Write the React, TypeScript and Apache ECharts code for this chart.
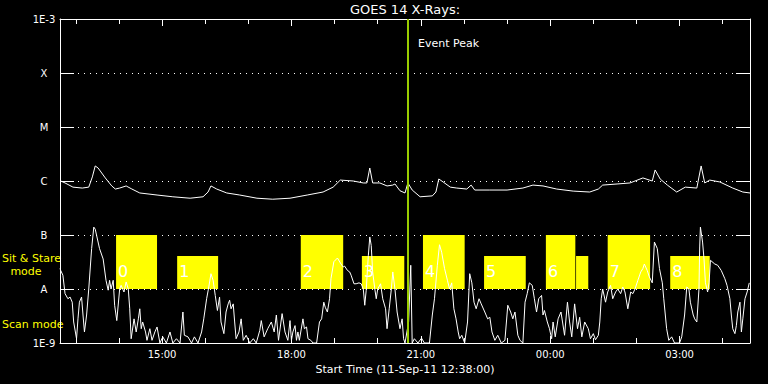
import { useEffect, useRef } from 'react';
import * as echarts from 'echarts';

// ---- texts ----
const TITLE = 'GOES 14 X-Rays:';
const X_NAME = 'Start Time (11-Sep-11 12:38:00)';
const EVENT_LABEL = 'Event Peak';

// ---- x axis: minutes after 11-Sep-11 12:38:00 ----
const X_MIN = 0;
const X_MAX = 960;
const HOUR_TICKS = [22, 82, 142, 202, 262, 322, 382, 442, 502, 562, 622, 682, 742, 802, 862, 922];
const MAJOR_TICKS = [142, 322, 502, 682, 862];
const MAJOR_LABELS = ['15:00', '18:00', '21:00', '00:00', '03:00'];

// ---- y axis (log flux W/m^2) ----
const Y_EXPONENTS = [-3, -4, -5, -6, -7, -8, -9];
const Y_LABELS = ['1E-3', 'X', 'M', 'C', 'B', 'A', '1E-9'];

const EVENT_PEAK = 484;

// ---- observing-mode boxes ----
const BOX_START = [78, 163, 335, 420, 505, 590, 676, 718, 762, 849];
const BOX_END = [135, 220, 394, 479, 563, 648, 717, 735, 821, 904];
const BOX_TOP = [1e-7, 4.1e-8, 1e-7, 4.1e-8, 1e-7, 4.1e-8, 1e-7, 4.1e-8, 1e-7, 4.1e-8];
const BOX_BOTTOM = 1e-8;
const BOX_LABELS = ['0', '1', '2', '3', '4', '5', '6', '', '7', '8'];

// ---- long channel (1-8 A) ----
const LONG_CHANNEL: [number, number][] = [
  [1, 1.0e-6], [7, 9.2e-7], [18, 7.7e-7], [31, 7.4e-7], [40, 7.7e-7], [45, 1.19e-6], [49, 1.9e-6], [53, 1.74e-6],
  [63, 1.14e-6], [72, 8.1e-7], [77, 7.1e-7], [83, 7.4e-7], [92, 8.1e-7], [100, 7.1e-7], [111, 6.0e-7], [135, 5.5e-7],
  [157, 5.1e-7], [181, 4.8e-7], [199, 5.1e-7], [206, 6.25e-7], [210, 8.1e-7], [218, 7.1e-7], [232, 6.0e-7], [250, 5.5e-7],
  [274, 4.8e-7], [296, 4.6e-7], [320, 4.8e-7], [344, 5.5e-7], [366, 6.25e-7], [380, 7.7e-7], [390, 1.04e-6], [408, 1.0e-6],
  [422, 9.2e-7], [427, 9.2e-7], [431, 1.74e-6], [435, 9.2e-7], [445, 9.2e-7], [455, 8.1e-7], [463, 8.4e-7], [466, 8.8e-7],
  [473, 6.6e-7], [480, 6.0e-7], [484, 9.2e-7], [490, 6.8e-7], [501, 5.1e-7], [518, 5.3e-7], [523, 6.25e-7], [527, 1.09e-6],
  [533, 9.6e-7], [543, 7.7e-7], [552, 7.4e-7], [566, 7.1e-7], [572, 8.4e-7], [577, 6.8e-7], [598, 6.8e-7], [622, 6.8e-7],
  [644, 7.4e-7], [658, 8.4e-7], [672, 8.1e-7], [691, 7.1e-7], [714, 6.5e-7], [737, 6.25e-7], [749, 7.1e-7], [755, 8.4e-7],
  [775, 8.8e-7], [793, 9.2e-7], [811, 1.14e-6], [824, 1.0e-6], [828, 1.6e-6], [835, 1.09e-6], [845, 8.4e-7], [858, 6.25e-7],
  [870, 7.7e-7], [886, 7.4e-7], [892, 1.9e-6], [897, 9.2e-7], [904, 1.04e-6], [918, 9.6e-7], [936, 7.4e-7], [950, 6.25e-7],
  [960, 6.0e-7],
];

// ---- short channel (0.5-4 A) ----
const SHORT_CHANNEL: [number, number][] = [
  [0, 2.4e-8], [1, 2.2e-8], [4, 1.8e-8], [7, 8.2e-9], [11, 6.6e-9], [14, 7.1e-9], [17, 5.7e-9], [19, 2.45e-9], [23, 1.2e-9],
  [25, 2.8e-9], [27, 5.7e-9], [30, 7.1e-9], [32, 3.3e-9], [34, 1.6e-9], [37, 3.3e-9], [40, 1.0e-8], [44, 5.6e-8], [47, 1.4e-7],
  [49, 1.28e-7], [55, 5.6e-8], [60, 3.6e-8], [64, 1.45e-8], [67, 9.5e-9], [69, 1.45e-8], [71, 1.0e-8], [74, 1.45e-8], [76, 5.0e-9],
  [79, 2.6e-9], [83, 1.0e-8], [85, 1.17e-8], [89, 8.8e-9], [92, 1.35e-8], [95, 1.0e-8], [97, 4.3e-9], [99, 1.2e-9], [103, 2.8e-9],
  [106, 1.6e-9], [109, 2.8e-9], [111, 4.3e-9], [113, 1.84e-9], [115, 2.45e-9], [119, 1.6e-9], [121, 1.12e-9], [125, 1.84e-9],
  [128, 1.12e-9], [132, 1.6e-9], [135, 1.98e-9], [139, 1e-9], [143, 1.3e-9], [148, 1e-9], [153, 1.6e-9], [157, 1e-9], [162, 1.2e-9],
  [167, 1e-9], [171, 3.75e-9], [173, 1.39e-9], [178, 1.3e-9], [183, 1e-9], [187, 1.3e-9], [192, 1e-9], [197, 1.6e-9], [200, 2.8e-9],
  [204, 6.6e-9], [207, 1.09e-8], [210, 1.92e-8], [213, 1.45e-8], [216, 7.6e-9], [219, 4.0e-9], [222, 7.1e-9], [224, 2.45e-9],
  [228, 1.49e-9], [231, 3.75e-9], [234, 5.3e-9], [236, 6.2e-9], [238, 4.3e-9], [241, 5.3e-9], [243, 2.45e-9], [245, 1.2e-9],
  [249, 1.6e-9], [252, 2.8e-9], [255, 1.12e-9], [259, 1.39e-9], [264, 1e-9], [269, 1.2e-9], [273, 1e-9], [278, 1.72e-9],
  [280, 2.6e-9], [284, 1.3e-9], [289, 1.84e-9], [294, 2.45e-9], [298, 1.6e-9], [301, 3.3e-9], [304, 1.12e-9], [309, 3.5e-9],
  [313, 1.6e-9], [317, 1.12e-9], [320, 2.6e-9], [322, 1.12e-9], [324, 1.6e-9], [327, 2.1e-9], [329, 1.12e-9], [331, 1.6e-9],
  [333, 1.12e-9], [338, 2.8e-9], [340, 1.84e-9], [343, 1.98e-9], [345, 1.2e-9], [349, 1.12e-9], [352, 1e-9], [357, 1e-9],
  [361, 2.45e-9], [364, 2.8e-9], [367, 5.7e-9], [369, 4.6e-9], [372, 3.75e-9], [375, 6.6e-9], [377, 1.55e-8], [381, 3.2e-8],
  [386, 3.75e-8], [391, 2.9e-8], [394, 2.55e-8], [396, 2.65e-8], [400, 2.2e-8], [403, 2.07e-8], [405, 1.8e-8], [409, 1.25e-8],
  [412, 1.25e-8], [416, 1.3e-8], [419, 1.25e-8], [422, 1.0e-8], [424, 5.0e-9], [426, 9.5e-9], [429, 4.2e-8], [431, 9.2e-8],
  [433, 6.4e-8], [435, 2.07e-8], [438, 1.0e-8], [440, 6.6e-9], [442, 1.0e-8], [446, 1.25e-8], [449, 6.6e-9], [453, 4.3e-9],
  [455, 1.84e-9], [458, 4.3e-9], [461, 1.0e-8], [463, 2.07e-8], [466, 1.0e-8], [469, 3.75e-9], [473, 1.84e-9], [476, 2.8e-9],
  [478, 1.2e-9], [480, 1e-9], [485, 2.45e-9], [488, 2.75e-8], [490, 1e-9], [493, 1.2e-9], [498, 1e-9], [503, 1.23e-9], [507, 1e-9],
  [514, 1e-9], [518, 3.3e-9], [521, 6.6e-9], [525, 2.75e-8], [528, 6.6e-8], [531, 4.8e-8], [535, 2.4e-8], [539, 1.45e-8],
  [542, 1.0e-8], [545, 1.3e-8], [548, 4.3e-9], [551, 2.8e-9], [554, 1.6e-9], [556, 1.2e-9], [559, 1.39e-9], [563, 1e-9],
  [567, 2.45e-9], [570, 1.92e-8], [573, 1.3e-8], [576, 5.7e-9], [579, 4.3e-9], [583, 6.6e-9], [586, 5.3e-9], [591, 3.75e-9],
  [595, 2.8e-9], [598, 3.0e-9], [601, 1.6e-9], [605, 1.12e-9], [609, 1.39e-9], [614, 1e-9], [619, 1.12e-9], [623, 5.0e-9],
  [627, 3.75e-9], [630, 2.8e-9], [633, 3.75e-9], [637, 1.39e-9], [640, 1.12e-9], [644, 1e-9], [647, 5.7e-9], [650, 8.2e-9],
  [653, 1.3e-8], [657, 1.17e-8], [660, 6.6e-9], [663, 3.75e-9], [666, 6.6e-9], [670, 7.6e-9], [672, 3.3e-9], [674, 4.0e-9],
  [678, 2.45e-9], [681, 1.84e-9], [684, 1.2e-9], [686, 2.45e-9], [689, 1.3e-9], [693, 2.8e-9], [697, 3.75e-9], [702, 1.39e-9],
  [706, 5.7e-9], [709, 2.45e-9], [712, 1.3e-9], [716, 5.3e-9], [720, 1.84e-9], [723, 3.0e-9], [726, 1.3e-9], [730, 2.45e-9],
  [735, 1.84e-9], [738, 1.2e-9], [742, 1.49e-9], [745, 1.15e-9], [749, 1.39e-9], [751, 2.45e-9], [753, 6.6e-9], [755, 1.0e-8],
  [759, 5.7e-9], [762, 8.8e-9], [766, 1.17e-8], [769, 6.6e-9], [773, 8.8e-9], [776, 1.0e-8], [780, 8.2e-9], [783, 1.09e-8],
  [786, 8.8e-9], [790, 4.3e-9], [794, 8.8e-9], [797, 8.2e-9], [800, 1.0e-8], [804, 1.45e-8], [808, 2.07e-8], [811, 2.4e-8],
  [813, 2.9e-8], [817, 2.2e-8], [820, 1.67e-8], [824, 1.3e-8], [827, 7.4e-8], [831, 5.6e-8], [834, 2.4e-8], [838, 1.3e-8],
  [840, 6.6e-9], [844, 1.84e-9], [847, 1.12e-9], [851, 1.3e-9], [855, 1e-9], [862, 1e-9], [865, 1.3e-9], [869, 3.3e-9],
  [872, 1.09e-8], [875, 1.0e-8], [877, 5.7e-9], [881, 3.3e-9], [883, 2.8e-9], [886, 2.45e-9], [889, 1.0e-8], [890, 6.0e-8],
  [891, 1.4e-7], [894, 7.4e-8], [896, 3.6e-8], [898, 1.3e-8], [901, 8.8e-9], [903, 1.3e-8], [905, 3.4e-8], [911, 2.9e-8],
  [915, 2.75e-8], [920, 2.2e-8], [925, 1.55e-8], [928, 1.17e-8], [932, 6.6e-9], [934, 3.3e-9], [936, 1.84e-9], [939, 1.49e-9],
  [941, 2.1e-9], [943, 3.75e-9], [946, 5.7e-9], [948, 1.6e-9], [950, 2.8e-9], [953, 6.6e-9], [956, 8.8e-9], [959, 1.3e-8],
];

const FONT = 'DejaVu Sans';
const WHITE = '#ffffff';
const YELLOW = '#ffff00';
const PEAK_COLOR = '#99cc00';

function yLabel(v: number): string {
  const e = Math.round(Math.log10(v));
  const i = Y_EXPONENTS.indexOf(e);
  return i >= 0 ? Y_LABELS[i] : '';
}

export default function App() {
  const ref = useRef<HTMLDivElement>(null);

  useEffect(() => {
    document.body.style.margin = '0';
    document.body.style.background = '#000';
    if (!ref.current) return;
    const chart = echarts.init(ref.current, null, { renderer: 'svg' });

    const baseX = {
      type: 'value' as const,
      min: X_MIN,
      max: X_MAX,
      splitLine: { show: false },
    };

    const baseY = {
      type: 'log' as const,
      logBase: 10,
      min: 1e-9,
      max: 1e-3,
      interval: 1,
    };

    chart.setOption({
      animation: false,
      backgroundColor: '#000000',
      grid: { left: 60, right: 18, top: 19, bottom: 41, show: false },
      graphic: [
        {
          type: 'text', x: 405, y: 9,
          style: { text: TITLE, fill: WHITE, font: `13px ${FONT}`, align: 'center', verticalAlign: 'middle' },
        },
        {
          type: 'text', x: 418, y: 43,
          style: { text: EVENT_LABEL, fill: WHITE, font: `11px ${FONT}`, align: 'left', verticalAlign: 'middle' },
        },
        {
          type: 'text', x: 2, y: 258,
          style: { text: 'Sit & Stare', fill: YELLOW, font: `11px ${FONT}`, align: 'left', verticalAlign: 'middle' },
        },
        {
          type: 'text', x: 26, y: 271,
          style: { text: 'mode', fill: YELLOW, font: `11px ${FONT}`, align: 'center', verticalAlign: 'middle' },
        },
        {
          type: 'text', x: 2, y: 324,
          style: { text: 'Scan mode', fill: YELLOW, font: `11px ${FONT}`, align: 'left', verticalAlign: 'middle' },
        },
      ],
      xAxis: [
        {
          ...baseX,
          position: 'bottom',
          axisLine: { show: true, onZero: false, lineStyle: { color: WHITE, width: 1 } },
          axisTick: { show: true, inside: true, length: 5, customValues: HOUR_TICKS, lineStyle: { color: WHITE } },
          axisLabel: {
            show: true,
            customValues: MAJOR_TICKS,
            formatter: (v: number) => {
              const i = MAJOR_TICKS.indexOf(Math.round(v));
              return i >= 0 ? MAJOR_LABELS[i] : '';
            },
            color: WHITE,
            fontFamily: FONT,
            fontSize: 10,
            margin: 6,
          },
          name: X_NAME,
          nameLocation: 'middle',
          nameGap: 19,
          nameTextStyle: { color: WHITE, fontFamily: FONT, fontSize: 11 },
        },
        {
          ...baseX,
          position: 'top',
          axisLine: { show: true, onZero: false, lineStyle: { color: WHITE, width: 1 } },
          axisTick: { show: true, inside: true, length: 5, customValues: HOUR_TICKS, lineStyle: { color: WHITE } },
          axisLabel: { show: false },
        },
        {
          ...baseX,
          position: 'bottom',
          axisLine: { show: false, onZero: false },
          axisTick: { show: true, inside: true, length: 7, customValues: MAJOR_TICKS, lineStyle: { color: WHITE } },
          axisLabel: { show: false },
        },
        {
          ...baseX,
          position: 'top',
          axisLine: { show: false, onZero: false },
          axisTick: { show: true, inside: true, length: 7, customValues: MAJOR_TICKS, lineStyle: { color: WHITE } },
          axisLabel: { show: false },
        },
      ],
      yAxis: [
        {
          ...baseY,
          position: 'left',
          axisLine: { show: true, onZero: false, lineStyle: { color: WHITE, width: 1 } },
          axisTick: { show: true, inside: true, length: 14, lineStyle: { color: WHITE } },
          axisLabel: {
            show: true,
            formatter: yLabel,
            color: WHITE,
            fontFamily: FONT,
            fontSize: 10,
            align: 'center',
            margin: 16,
          },
          splitLine: { show: true, lineStyle: { color: WHITE, width: 1, type: [1, 5] } },
          minorTick: { show: false },
        },
        {
          ...baseY,
          position: 'right',
          axisLine: { show: true, onZero: false, lineStyle: { color: WHITE, width: 1 } },
          axisTick: { show: true, inside: true, length: 14, lineStyle: { color: WHITE } },
          axisLabel: { show: false },
          splitLine: { show: false },
        },
      ],
      series: [
        {
          type: 'custom',
          name: 'modes',
          xAxisIndex: 0,
          yAxisIndex: 0,
          z: 1,
          encode: { x: [0, 1], y: [2, 3] },
          data: BOX_START.map((s, i) => [s, BOX_END[i], BOX_TOP[i], BOX_BOTTOM]),
          renderItem: (params: any, api: any) => {
            const i = params.dataIndex;
            const p0 = api.coord([api.value(0), api.value(2)]);
            const p1 = api.coord([api.value(1), api.value(3)]);
            return {
              type: 'group',
              children: [
                {
                  type: 'rect',
                  shape: { x: p0[0], y: p0[1], width: p1[0] - p0[0], height: p1[1] - p0[1] },
                  style: { fill: YELLOW },
                },
                {
                  type: 'text',
                  x: p0[0] + 2,
                  y: p1[1] - 18,
                  style: {
                    text: BOX_LABELS[i],
                    fill: WHITE,
                    font: `16px ${FONT}`,
                    align: 'left',
                    verticalAlign: 'middle',
                  },
                },
              ],
            };
          },
        },
        {
          type: 'line',
          name: 'long',
          xAxisIndex: 0,
          yAxisIndex: 0,
          z: 3,
          data: LONG_CHANNEL,
          showSymbol: false,
          lineStyle: { color: WHITE, width: 1 },
          markLine: {
            silent: true,
            symbol: 'none',
            label: { show: false },
            lineStyle: { color: PEAK_COLOR, width: 2, type: 'solid' },
            data: [{ xAxis: EVENT_PEAK }],
          },
        },
        {
          type: 'line',
          name: 'short',
          xAxisIndex: 0,
          yAxisIndex: 0,
          z: 2,
          data: SHORT_CHANNEL,
          showSymbol: false,
          lineStyle: { color: WHITE, width: 1 },
        },
      ],
    });

    return () => chart.dispose();
  }, []);

  return <div ref={ref} style={{ width: 768, height: 384, background: '#000' }} />;
}
